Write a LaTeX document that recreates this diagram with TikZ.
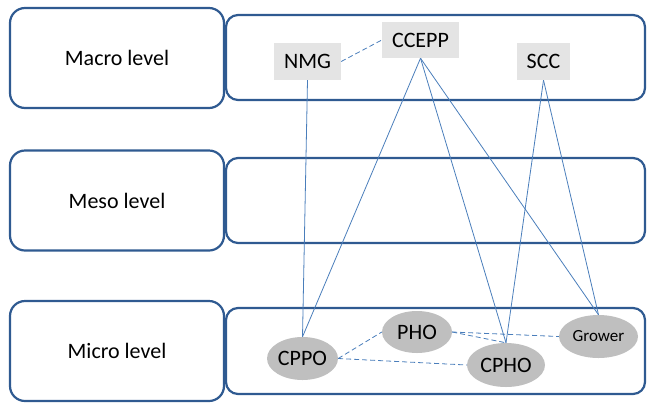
\documentclass[tikz,border=0pt]{standalone}
\usepackage{fontspec}
\setmainfont{Carlito}
\usetikzlibrary{shapes.geometric}
\definecolor{boxblue}{HTML}{2F5A91}
\definecolor{linkblue}{HTML}{4A7EBB}
\definecolor{rectgray}{HTML}{E4E4E4}
\definecolor{ellgray}{HTML}{BFBFBF}
\begin{document}
\begin{tikzpicture}[x=1pt,y=-1pt,
  levelbox/.style={draw=boxblue, line width=2.2pt, rounded corners=15pt, minimum width=214pt, minimum height=100pt, inner sep=0pt, font=\fontsize{22}{26}\selectfont},
  lanebox/.style={draw=boxblue, line width=2.2pt, rounded corners=12pt},
  actor/.style={fill=rectgray, inner sep=0pt, minimum height=37pt, font=\fontsize{22}{26}\selectfont},
  org/.style={ellipse, fill=ellgray, inner sep=0pt, font=\fontsize{22}{26}\selectfont},
  link/.style={draw=linkblue, line width=0.8pt},
  dlink/.style={draw=linkblue, line width=0.8pt, dash pattern=on 5pt off 3pt}
]
\useasboundingbox (0,0) rectangle (647,413);
% level boxes
\node[levelbox] (macro) at (117,58) {Macro level};
\node[levelbox] (meso) at (117,200.5) {Meso level};
\node[levelbox] (micro) at (117,351) {Micro level};
% lanes
\draw[lanebox] (226,15) rectangle (645,100);
\draw[lanebox] (226,158) rectangle (645,243);
\draw[lanebox] (226,308) rectangle (645,394);
% actors
\node[actor, minimum width=67pt] (nmg) at (307.5,61.5) {NMG};
\node[actor, minimum width=77pt, minimum height=36pt] (ccepp) at (420.5,40) {CCEPP};
\node[actor, minimum width=53pt] (scc) at (543.5,61.5) {SCC};
\node[org, minimum width=71pt, minimum height=43pt] (cppo) at (302.5,358.5) {CPPO};
\node[org, minimum width=70pt, minimum height=42pt] (pho) at (417,332) {PHO};
\node[org, minimum width=78pt, minimum height=44pt] (cpho) at (506,365) {CPHO};
\node[org, minimum width=79pt, minimum height=43pt, font=\fontsize{17}{20}\selectfont] (grower) at (598.5,336.5) {Grower};
% solid links
\draw[link] (nmg.south) -- (cppo.north);
\draw[link] (ccepp.south) -- (cppo.north);
\draw[link] (ccepp.south) -- (cpho.north);
\draw[link] (ccepp.south) -- (grower.north);
\draw[link] (scc.south) -- (cpho.north);
\draw[link] (scc.south) -- (grower.north);
% dashed links
\draw[dlink] (nmg.east) -- (ccepp.west);
\draw[dlink] (cppo.east) -- (pho.west);
\draw[dlink] (cppo.east) -- (cpho.west);
\draw[dlink] (pho.east) -- (grower.west);
\draw[dlink] (pho.east) -- (cpho.north);
\end{tikzpicture}
\end{document}
